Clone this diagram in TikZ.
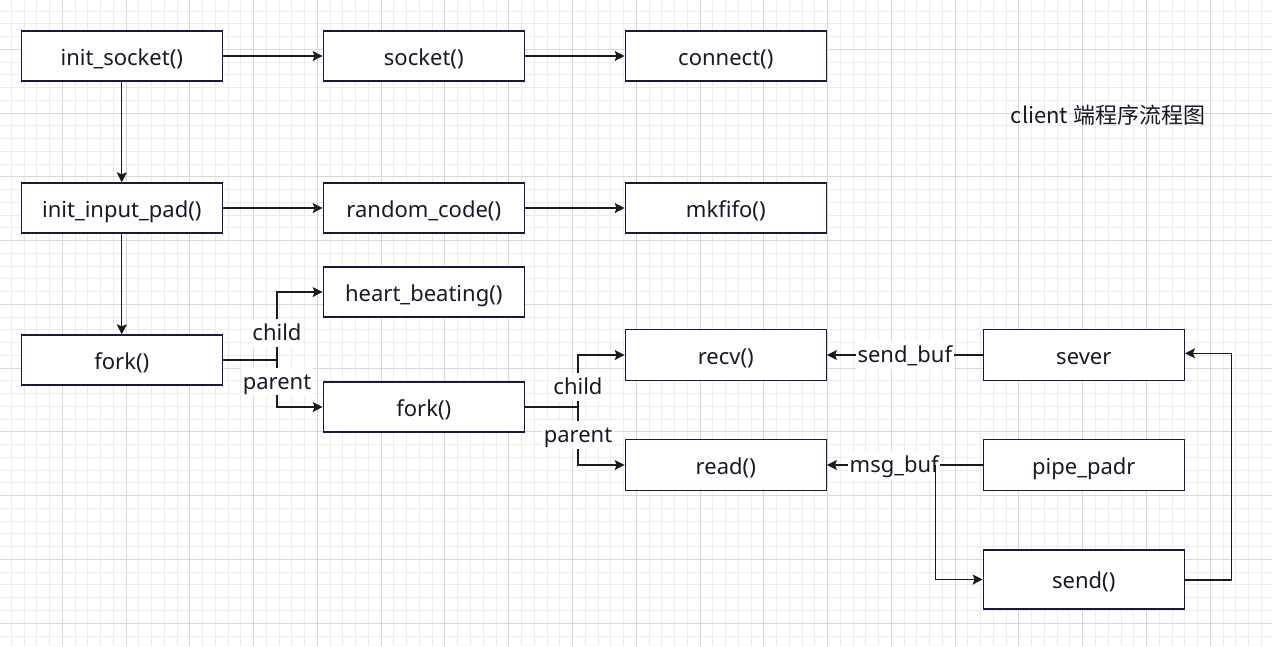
\documentclass[tikz,border=0pt]{standalone}
\usepackage{fontspec}
\setmainfont{Noto Sans}
\newfontfamily\cjk{Noto Sans CJK SC}
\usetikzlibrary{arrows.meta}
\definecolor{gminor}{RGB}{236,236,236}
\definecolor{gmajor}{RGB}{216,216,216}
\definecolor{boxline}{RGB}{22,26,64}
\definecolor{txt}{RGB}{24,24,40}
\definecolor{conn}{RGB}{26,26,26}
\tikzset{
  box/.style={draw=boxline, fill=white, line width=1.3pt, minimum width=201pt, minimum height=50pt, inner sep=0pt, text height=22pt, text depth=4pt, text=txt, font=\fontsize{22}{26}\selectfont},
  arr/.style={draw=conn, line width=1.3pt, -{Stealth[length=10pt,width=10pt,inset=2pt]}},
  ln/.style={draw=conn, line width=1.3pt},
  lab/.style={fill=white, inner sep=1.5pt, text height=20pt, text depth=4.6pt, text=txt, font=\fontsize{22}{26}\selectfont},
}
\begin{document}
\begin{tikzpicture}[x=1pt,y=-1pt]
\useasboundingbox (0,0) rectangle (1272,646);
\fill[white] (0,0) rectangle (1272,646);
% grid
\begin{scope}
\clip (0,0) rectangle (1272,646);
\foreach \i in {0,...,100} {
  \draw[gminor, line width=1pt] ({-1.45+12.755*\i},0) -- ({-1.45+12.755*\i},646);
}
\foreach \i in {0,...,51} {
  \draw[gminor, line width=1pt] (0,{-14.5+12.755*\i}) -- (1272,{-14.5+12.755*\i});
}
\foreach \i in {0,...,20} {
  \draw[gmajor, line width=1pt] ({-1.45+63.775*\i},0) -- ({-1.45+63.775*\i},646);
}
\foreach \i in {0,...,11} {
  \draw[gmajor, line width=1pt] (0,{-14.5+63.775*\i}) -- (1272,{-14.5+63.775*\i});
}
\end{scope}
% nodes
\node[box] (is) at (121.8,56) {init\_socket()};
\node[box] (so) at (423.8,56) {socket()};
\node[box] (co) at (725.8,56) {connect()};
\node[box] (ip) at (121.8,208) {init\_input\_pad()};
\node[box] (rc) at (423.8,208) {random\_code()};
\node[box] (mk) at (725.8,208) {mkfifo()};
\node[box] (hb) at (423.8,292) {heart\_beating()};
\node[box] (f1) at (121.8,360) {fork()};
\node[box] (f2) at (423.8,407) {fork()};
\node[box, minimum height=51pt] (rv) at (725.8,355) {recv()};
\node[box, minimum height=51pt] (rd) at (725.8,465) {read()};
\node[box, minimum height=51pt] (sv) at (1083.8,355) {sever};
\node[box, minimum height=51pt] (pp) at (1083.8,465) {pipe\_padr};
\node[box, minimum height=59pt] (sd) at (1083.8,579.5) {send()};
\node[text=txt, font=\cjk\fontsize{22}{26}\selectfont] (title) at (1108,115) {client 端程序流程图};
% connectors
\draw[arr] (is) -- (so);
\draw[arr] (so) -- (co);
\draw[arr] (is) -- (ip);
\draw[arr] (ip) -- (rc);
\draw[arr] (rc) -- (mk);
\draw[arr] (ip) -- (f1);
\coordinate (b1) at (277,360);
\draw[ln] (f1.east) -- (b1);
\draw[arr] (b1) |- node[lab, pos=0.2] {child} (hb.west);
\draw[arr] (b1) |- node[lab, pos=0.23] {parent} (f2.west);
\coordinate (b2) at (578,407);
\draw[ln] (f2.east) -- (b2);
\draw[arr] (b2) |- node[lab, pos=0.19] {child} (rv.west);
\draw[arr] (b2) |- node[lab, pos=0.24] {parent} (rd.west);
\draw[arr] (sv.west) -- node[lab, pos=0.5] {send\_buf} (rv.east);
\coordinate (b3) at (935.5,465);
\draw[ln] (pp.west) -- (b3);
\draw[arr] (b3) -- node[lab, pos=0.38] {msg\_buf} (rd.east);
\draw[arr] (b3) |- (sd.west);
\coordinate (b4) at (1231.5,580);
\coordinate (sve) at ([yshift=1.7pt]sv.east);
\draw[ln] (sd.east |- b4) -- (b4);
\draw[arr] (b4) |- (sve);
\end{tikzpicture}
\end{document}
